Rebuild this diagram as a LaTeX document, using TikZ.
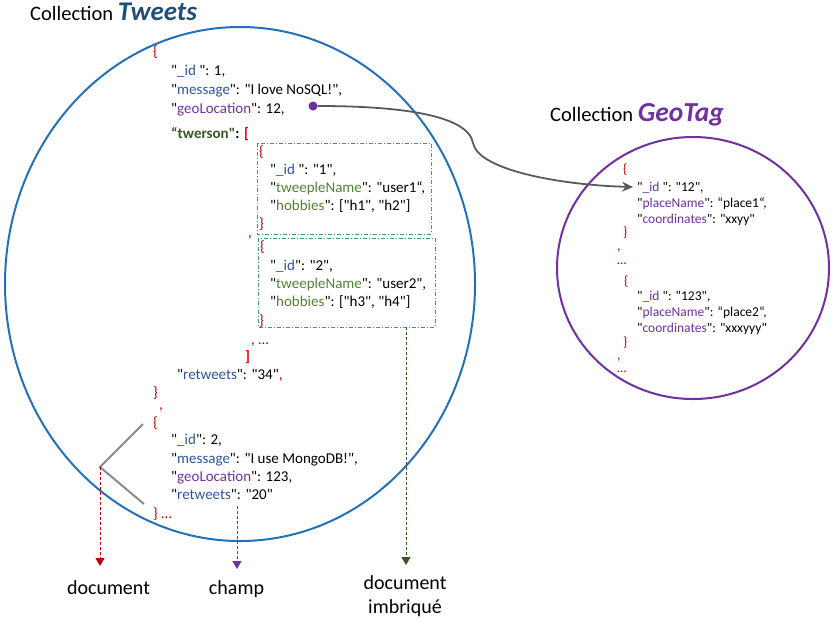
\documentclass[tikz,border=0pt]{standalone}
\usepackage{fontspec}
\setmainfont{Carlito}[Ligatures=TeXOff]
\usetikzlibrary{arrows.meta}
\definecolor{kblue}{HTML}{2F5597}
\definecolor{kpurple}{HTML}{7030A0}
\definecolor{kgreen}{HTML}{548235}
\definecolor{dgreen}{HTML}{375623}
\definecolor{bred}{HTML}{C00000}
\definecolor{bbred}{HTML}{F00000}
\definecolor{ellblue}{HTML}{2371B9}
\definecolor{boxgreen}{HTML}{3C9C6C}
\definecolor{tweetblue}{HTML}{1F4E79}
\definecolor{conngray}{HTML}{595959}
\definecolor{linegray}{HTML}{8A8A8A}
\newcommand\keyb[1]{\textcolor{kblue}{#1}}
\newcommand\keyp[1]{\textcolor{kpurple}{#1}}
\newcommand\keyg[1]{\textcolor{kgreen}{#1}}
\newcommand\redt[1]{\textcolor{bred}{#1}}
\tikzset{
  txt/.style={anchor=base west, inner sep=0pt, font=\fontsize{15}{18}\selectfont},
  gtxt/.style={anchor=base west, inner sep=0pt, font=\fontsize{13.5}{16}\selectfont},
  brace/.style={anchor=west, inner sep=0pt, text=bred, font=\fontsize{15}{18}\selectfont},
  gbrace/.style={anchor=west, inner sep=0pt, text=bred, font=\fontsize{13.5}{16}\selectfont},
  title/.style={anchor=base west, inner sep=0pt, font=\fontsize{20.5}{24}\selectfont},
  lbl/.style={anchor=base, inner sep=0pt, align=center, font=\fontsize{20}{24}\selectfont},
  nestbox/.style={draw=boxgreen, line width=0.8pt, dash pattern=on 4pt off 2pt on 1pt off 2pt},
  dashred/.style={draw=bred, line width=0.9pt, dash pattern=on 3pt off 2pt, -{Triangle[width=9pt,length=8pt]}, bred},
  dashpurple/.style={draw=kpurple, line width=0.9pt, dash pattern=on 3pt off 2pt, -{Triangle[width=9pt,length=8pt]}, kpurple},
  dashgreen/.style={draw=dgreen, line width=0.9pt, dash pattern=on 3pt off 2pt, -{Triangle[width=9pt,length=8pt]}, dgreen},
  conn/.style={draw=conngray, line width=1.8pt, -{Stealth[length=11pt,width=10pt]}},
  grayline/.style={draw=linegray, line width=2pt},
}
\begin{document}
\begin{tikzpicture}[x=1pt,y=-1pt]
\useasboundingbox (0,0) rectangle (834,625);
% collections
\draw[ellblue, line width=2pt] (240,284) ellipse [x radius=235pt, y radius=257pt];
\draw[kpurple, line width=2pt] (693,268) ellipse [x radius=136pt, y radius=131pt];
% titles
\node[title] (t1) at (30,20) {Collection \textcolor{tweetblue}{\fontsize{27}{30}\selectfont\bfseries\itshape Tweets}};
\node[title] (t2) at (550,121) {Collection \textcolor{kpurple}{\fontsize{27.5}{30}\selectfont\bfseries\itshape GeoTag}};
% first document
\node[brace] (b1) at (153,52) {\{};
\node[txt] (l1) at (171,75) {"\keyb{\_id }": 1,};
\node[txt] (l2) at (171,94) {"\keyb{message}": "I love NoSQL!",};
\node[txt] (l3) at (171,113) {"\keyp{geoLocation}": 12,};
\node[txt] (l4) at (171,138) {\bfseries\textcolor{dgreen}{“twerson"}: \textcolor{bbred}{[}};
% nested boxes
\draw[nestbox] (257,143) rectangle (431,234);
\node[brace] (nb1) at (259,152) {\{};
\node[txt] (n1) at (270,174) {"\keyb{\_id }": "1",};
\node[txt] (n2) at (270,192) {"\keyg{tweepleName}": "user1“,};
\node[txt] (n3) at (270,210) {"\keyg{hobbies}": ["h1", "h2"]};
\node[brace] (ne1) at (259,224) {\}};
\node[txt, text=bred] (c1) at (248,237) {,};
\draw[nestbox] (258,238) rectangle (435,327);
\coordinate (box2s) at (406,327);
\node[brace] (nb2) at (260,247) {\{};
\node[txt] (m1) at (270,270) {"\keyb{\_id}": "2",};
\node[txt] (m2) at (270,288) {"\keyg{tweepleName}": "user2",};
\node[txt] (m3) at (270,306) {"\keyg{hobbies}": ["h3", "h4"]};
\node[brace] (ne2) at (259,321) {\}};
\node[txt, text=bred] (c2) at (251,344) {, …};
\node[brace, text=bbred, font=\fontsize{15}{18}\selectfont\bfseries] (rb) at (245,357) {]};
\node[txt] (l5) at (177,379) {"\keyb{retweets}": "34"\redt{,}};
\node[brace] (e1) at (153,393) {\}};
\node[txt, text=bred] (c3) at (159,409) {,};
% second document
\node[brace] (b2) at (153,423) {\{};
\node[txt] (s1) at (171,444) {"\keyb{\_id}": 2,};
\node[txt] (s2) at (171,463) {"\keyb{message}": "I use MongoDB!",};
\node[txt] (s3) at (171,481) {"\keyp{geoLocation}": 123,};
\node[txt] (s4) at (171,499) {"\keyb{retweets}": "20"};
\node[brace] (e2) at (153,514) {\} …};
% GeoTag documents
\node[gbrace] (gb1) at (623,170) {\{};
\node[gtxt] (g1) at (637,191) {"\keyp{\_id }": "12",};
\node[gtxt] (g2) at (637,207) {"\keyp{placeName}": “place1“,};
\node[gtxt] (g3) at (637,223) {"\keyp{coordinates}": "xxyy"};
\node[gbrace] (ge1) at (623,233) {\}};
\node[gtxt, text=bred] (gc1) at (617,250) {,};
\node[gtxt, text=bred] (gd1) at (617,264) {…};
\node[gbrace] (gb2) at (624,282) {\{};
\node[gtxt] (h1) at (637,300) {"\keyp{\_id }": "123",};
\node[gtxt] (h2) at (637,316) {"\keyp{placeName}": “place2“,};
\node[gtxt] (h3) at (637,332) {"\keyp{coordinates}": "xxxyyy"};
\node[gbrace] (ge2) at (623,343) {\}};
\node[gtxt, text=bred] (gc2) at (617,359) {,};
\node[gtxt, text=bred] (gd2) at (617,372) {…};
% reference connector
\node[circle, fill=kpurple, inner sep=0pt, minimum size=9pt] (dot) at (313,106) {};
\coordinate (geotip) at (633,187);
\draw[conn] (dot.east) .. controls (400,106) and (468,115) .. (473,143) .. controls (478,170) and (560,185) .. (geotip);
% document bracket
\coordinate (v) at (100,467);
\coordinate (vt) at (143,424);
\coordinate (vb) at (144,504);
\draw[grayline] (vt) -- (v) -- (vb);
% labels
\node[lbl] (ldoc) at (108.5,594) {document};
\node[lbl] (lchamp) at (236.5,594) {champ};
\node[lbl] (limb) at (405,613) {document\\imbriqué};
\coordinate (tipd) at (100,566);
\coordinate (cst) at (237,506);
\coordinate (tipc) at (237,569);
\coordinate (tipi) at (406,565);
\draw[dashred] (v) -- (tipd);
\draw[dashpurple] (cst) -- (tipc);
\draw[dashgreen] (box2s) -- (tipi);
\end{tikzpicture}
\end{document}
